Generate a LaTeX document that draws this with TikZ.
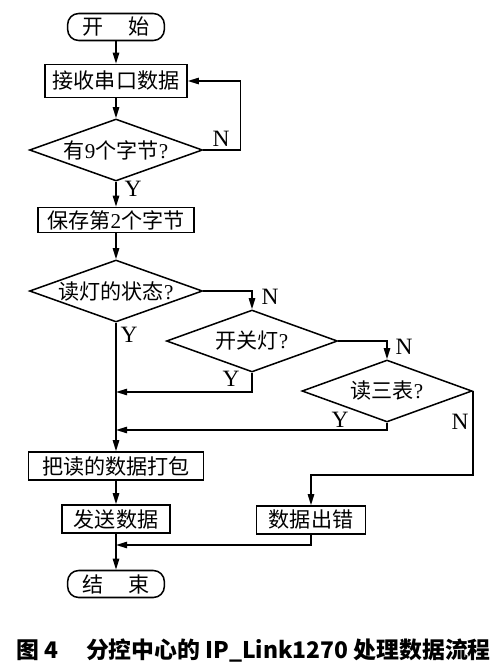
\documentclass[tikz,border=0pt]{standalone}
\usepackage{fontspec}
\setmainfont{Liberation Serif}
\newfontfamily\cjk{Noto Sans CJK SC}
\usetikzlibrary{shapes.geometric,arrows.meta}
\newcommand\en[1]{{\rmfamily #1}}

\begin{document}
\begin{tikzpicture}[x=0.03cm,y=-0.03cm,line width=1.3pt,
    >={Triangle[length=3.3mm,width=1.9mm]},
    every node/.style={font=\cjk\fontsize{18}{21}\selectfont},
    proc/.style={draw,rectangle,inner sep=0pt,minimum height=0.84cm},
    term/.style={draw,rectangle,rounded corners=0.33cm,inner sep=0pt,
      minimum width=2.9cm,minimum height=0.81cm},
    dec/.style={draw,diamond,inner sep=0pt,minimum width=5.19cm,minimum height=1.86cm},
    yn/.style={font=\rmfamily\fontsize{20}{22}\selectfont}]
  \useasboundingbox (0,0) rectangle (501,671);
  % main column
  \node[term] (start) at (116,27) {开\hspace{1.2em}始};
  \node[proc,minimum width=4.26cm,minimum height=0.99cm] (recv) at (116,81) {接收串口数据};
  \node[dec,label=center:{有\en{9}个字节\en{?}}] (d1) at (116,150) {};
  \node[proc,minimum width=4.68cm,minimum height=0.75cm] (save) at (116,220) {保存第\en{2}个字节};
  \node[dec,label=center:{读灯的状态\en{?}}] (d2) at (116,291) {};
  \node[dec,minimum width=5.13cm,label=center:{开关灯\en{?}}] (d3) at (252,341) {};
  \node[dec,minimum width=5.1cm,label=center:{读三表\en{?}}] (d4) at (387,391) {};
  \node[proc,minimum width=5.25cm] (pack) at (116,466) {把读的数据打包};
  \node[proc,minimum width=3.24cm] (send) at (116,519) {发送数据};
  \node[proc,minimum width=3.27cm] (err) at (311,520) {数据出错};
  \node[term] (stop) at (116,584) {结\hspace{1.2em}束};
  % join points on the main column
  \coordinate (j1) at (116,392);
  \coordinate (j2) at (116,430);
  \coordinate (j3) at (116,545);
  % connectors
  \draw[->] (start) -- (recv);
  \draw[->] (recv) -- (d1);
  \draw[->] (d1) -- (save);
  \draw[->] (d1.east) -- ++(37,0) |- (recv.east);
  \draw[->] (save) -- (d2);
  \draw[->] (d2.south) -- (pack.north);
  \draw[->] (d2.east) -| (d3.north);
  \draw[->] (d3.east) -| (d4.north);
  \draw[->] (d3.south) |- (j1);
  \draw[->] (d4.south) |- (j2);
  \draw[->] (d4.east) -- ++(0,84) -| (err.north);
  \draw[->] (pack) -- (send);
  \draw[->] (send.south) -- (stop.north);
  \draw[->] (err.south) |- (j3);
  % Y / N labels
  \node[yn] (n1) at (221,139) {N};
  \node[yn] (y1) at (133,189) {Y};
  \node[yn] (n2) at (270,297) {N};
  \node[yn] (y2) at (129,335) {Y};
  \node[yn] (n3) at (404,347) {N};
  \node[yn] (y3) at (231,379) {Y};
  \node[yn] (y4) at (340,420) {Y};
  \node[yn] (n4) at (460,422) {N};
  % caption
  \node[font=\cjk\bfseries\fontsize{19.5}{22}\selectfont,anchor=west] (cap) at (12,651)
    {图 4\hspace{1.2em}分控中心的 IP\_Link1270 处理数据流程};
\end{tikzpicture}
\end{document}
